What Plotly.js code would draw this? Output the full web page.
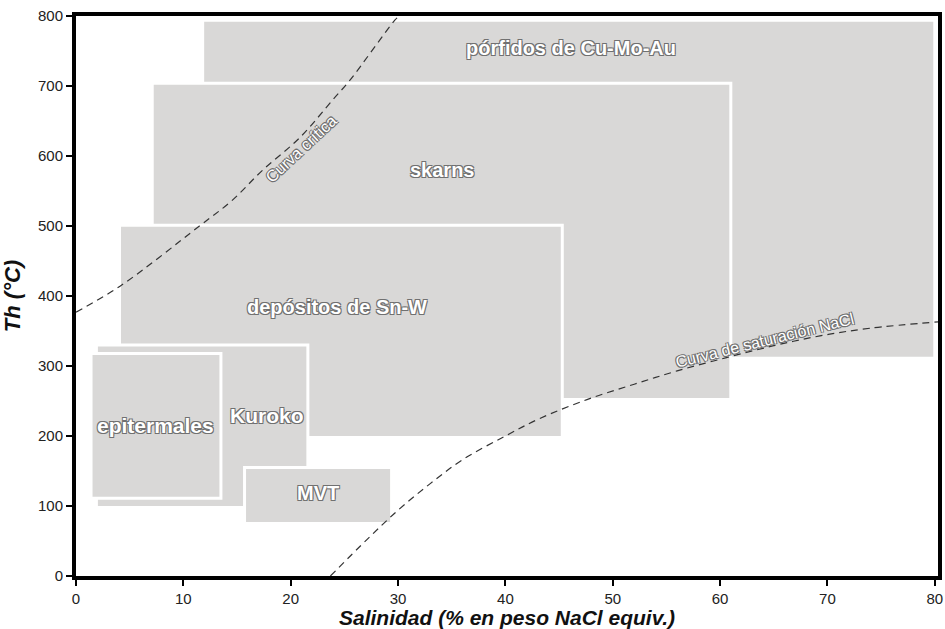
<!DOCTYPE html>
<html>
<head>
<meta charset="utf-8">
<script src="https://cdn.plot.ly/plotly-3.0.1.min.js"></script>
<style>html,body{margin:0;padding:0;background:#fff;}#chart{width:945px;height:629px;}</style>
</head>
<body>
<div id="chart"></div>
<script>
// Deposit fields (salinity wt% NaCl equiv., homogenization temperature °C)
const depositNames = ["pórfidos de Cu-Mo-Au", "skarns", "depósitos de Sn-W", "Kuroko", "epitermales", "MVT"];
const salMin  = [11.8, 7.1, 4.05, 1.9, 1.4, 15.7];
const salMax  = [80.0, 61.0, 45.3, 21.6, 13.5, 29.4];
const thMin   = [311, 252, 198, 98, 111, 75];
const thMax   = [794, 704, 501, 330, 318, 155];
const labelSal = [46.1, 34.1, 24.3, 17.8, 7.4, 22.5];
const labelTh  = [754, 580, 384, 229, 215, 118];

// Critical curve of H2O-NaCl
const critSal = [0, 4.1, 11.5, 14.5, 17.4, 20.9, 23.9, 25.5, 29.7, 30.1];
const critTh  = [377, 414, 500, 536, 580, 627, 680, 708, 794, 800];
// NaCl saturation curve
const satSal = [23.7, 27.1, 30.0, 33.0, 36.0, 40.0, 43.2, 47.6, 52.0, 56.0, 60.6, 65.0, 69.3, 74.0, 80.3];
const satTh  = [0, 52, 94, 132, 166, 200, 225, 252, 274, 293, 312, 329, 343, 354, 363];

const xTicks = [0, 10, 20, 30, 40, 50, 60, 70, 80];
const yTicks = [0, 100, 200, 300, 400, 500, 600, 700, 800];

const outline = "1px 1px 0 #707070, -1px -1px 0 #707070, 1px -1px 0 #707070, -1px 1px 0 #707070";

const shapes = depositNames.map((n, i) => ({
  type: "rect", xref: "x", yref: "y", layer: "below",
  x0: salMin[i], x1: salMax[i], y0: thMin[i], y1: thMax[i],
  fillcolor: "#d9d8d7", line: {color: "#ffffff", width: 3}
}));

const labelSizes = [20, 20, 20, 21, 21, 20];
const annotations = depositNames.map((n, i) => ({
  x: labelSal[i], y: labelTh[i], xref: "x", yref: "y", text: n, showarrow: false,
  font: {family: "Liberation Sans, Arial, sans-serif", size: labelSizes[i], color: "#ffffff", weight: "bold", shadow: outline}
}));
annotations.push({
  x: 21.0, y: 611, xref: "x", yref: "y", text: "Curva crítica", showarrow: false, textangle: -43,
  font: {family: "Liberation Sans, Arial, sans-serif", size: 16, color: "#ffffff", shadow: outline}
});
annotations.push({
  x: 64.1, y: 337, xref: "x", yref: "y", text: "Curva de saturación NaCl", showarrow: false, textangle: -14,
  font: {family: "Liberation Sans, Arial, sans-serif", size: 16, color: "#ffffff", shadow: outline}
});

const traces = [
  {x: critSal, y: critTh, mode: "lines", line: {color: "#333333", width: 1.2, dash: "7px,5px", shape: "spline"}, hoverinfo: "skip"},
  {x: satSal, y: satTh, mode: "lines", line: {color: "#333333", width: 1.2, dash: "7px,5px", shape: "spline"}, hoverinfo: "skip"}
];

const layout = {
  width: 945, height: 629,
  margin: {l: 76, r: 7, t: 16, b: 53},
  paper_bgcolor: "#ffffff", plot_bgcolor: "#ffffff",
  showlegend: false,
  xaxis: {
    range: [0, 80.3], tickvals: xTicks, ticktext: xTicks.map(String),
    showgrid: false, zeroline: false,
    showline: true, linewidth: 4, linecolor: "#000000", mirror: true,
    ticks: "outside", ticklen: 6, tickwidth: 2, tickcolor: "#000000",
    tickfont: {family: "Liberation Sans, Arial, sans-serif", size: 15, color: "#222222"},
    title: {text: "Salinidad (% en peso NaCl equiv.)", standoff: 1,
      font: {family: "Liberation Sans, Arial, sans-serif", size: 21, color: "#111111", weight: "bold", style: "italic"}}
  },
  yaxis: {
    range: [0, 800], tickvals: yTicks, ticktext: yTicks.map(String),
    showgrid: false, zeroline: false,
    showline: true, linewidth: 4, linecolor: "#000000", mirror: true,
    ticks: "outside", ticklen: 6, tickwidth: 2, tickcolor: "#000000",
    tickfont: {family: "Liberation Sans, Arial, sans-serif", size: 15, color: "#222222"},
    title: {text: "Th (°C)", standoff: 12,
      font: {family: "Liberation Sans, Arial, sans-serif", size: 22, color: "#111111", weight: "bold", style: "italic"}}
  },
  shapes: shapes,
  annotations: annotations
};

Plotly.newPlot("chart", traces, layout, {displayModeBar: false, staticPlot: true});
</script>
</body>
</html>
